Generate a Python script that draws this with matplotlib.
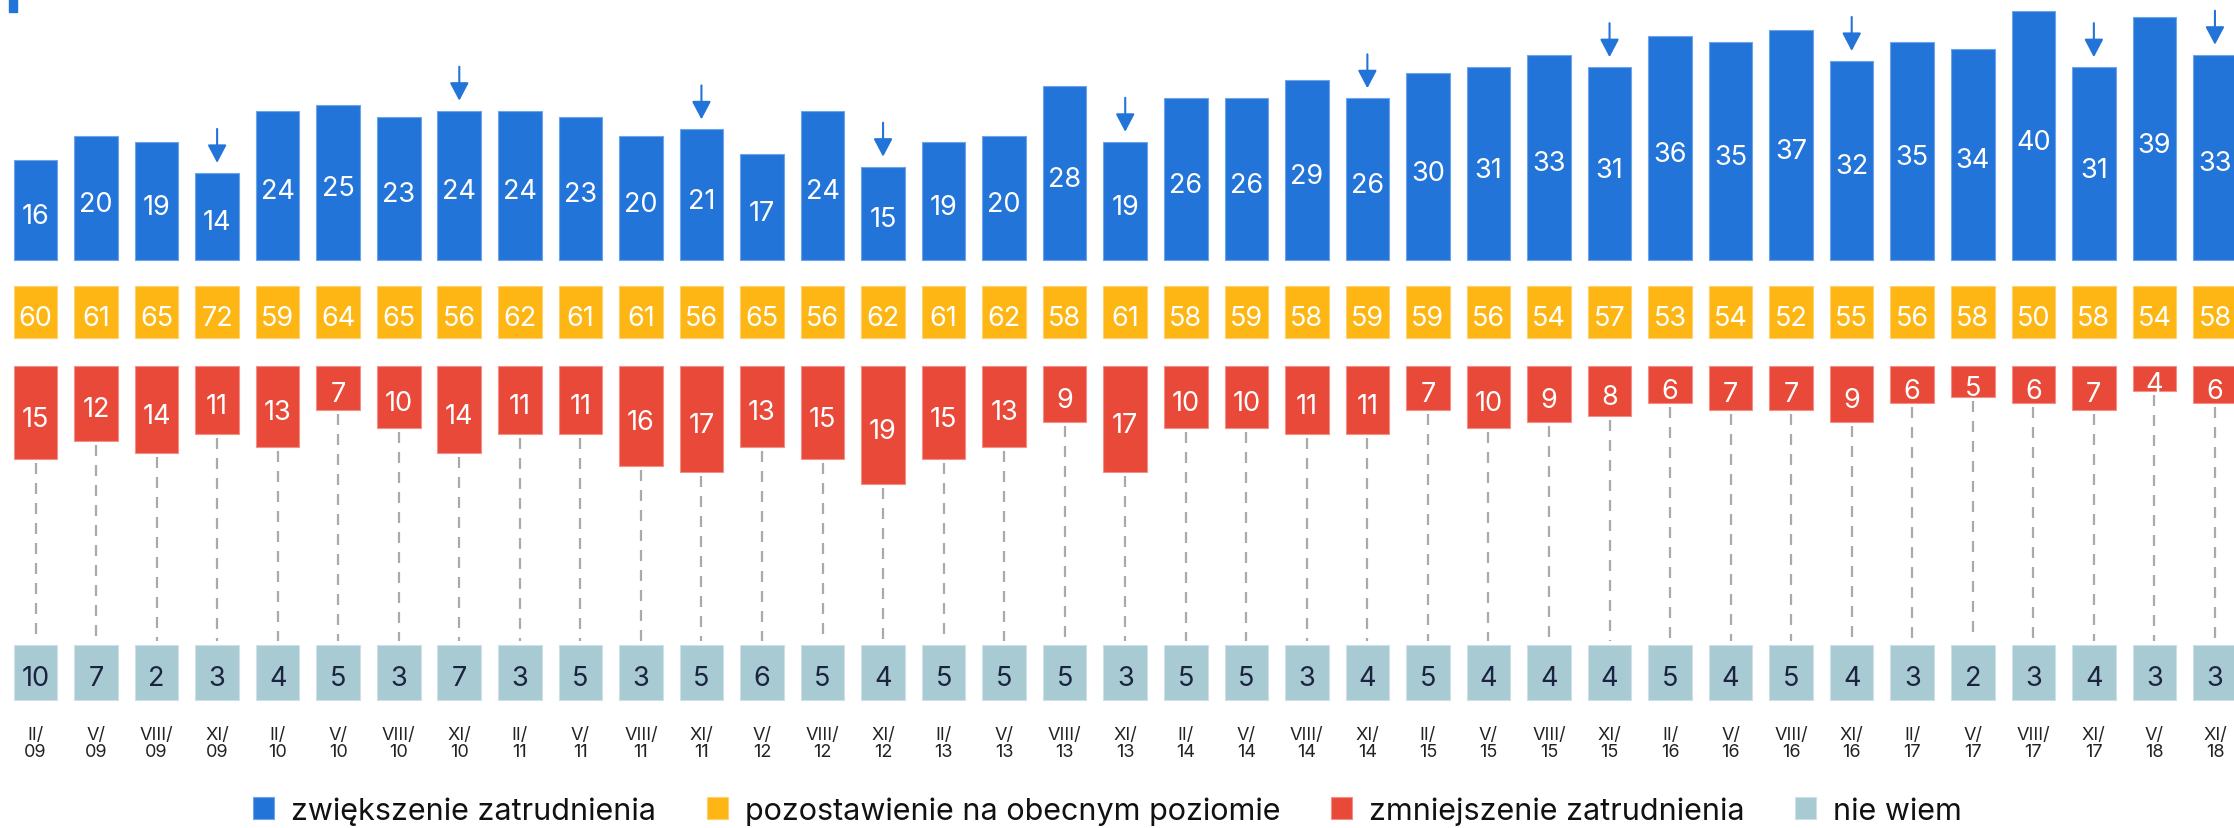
import numpy as np
import matplotlib.pyplot as plt
from matplotlib.patches import Rectangle

plt.rcParams['font.family'] = ['Inter', 'DejaVu Sans']
plt.rcParams['lines.scale_dashes'] = False

# dane
okresy = ['II/\n09', 'V/\n09', 'VIII/\n09', 'XI/\n09', 'II/\n10', 'V/\n10', 'VIII/\n10', 'XI/\n10',
          'II/\n11', 'V/\n11', 'VIII/\n11', 'XI/\n11', 'V/\n12', 'VIII/\n12', 'XI/\n12',
          'II/\n13', 'V/\n13', 'VIII/\n13', 'XI/\n13', 'II/\n14', 'V/\n14', 'VIII/\n14', 'XI/\n14',
          'II/\n15', 'V/\n15', 'VIII/\n15', 'XI/\n15', 'II/\n16', 'V/\n16', 'VIII/\n16', 'XI/\n16',
          'II/\n17', 'V/\n17', 'VIII/\n17', 'XI/\n17', 'V/\n18', 'XI/\n18']
zwiekszenie = [16, 20, 19, 14, 24, 25, 23, 24, 24, 23, 20, 21, 17, 24, 15, 19, 20, 28, 19,
               26, 26, 29, 26, 30, 31, 33, 31, 36, 35, 37, 32, 35, 34, 40, 31, 39, 33]
pozostawienie = [60, 61, 65, 72, 59, 64, 65, 56, 62, 61, 61, 56, 65, 56, 62, 61, 62, 58, 61,
                 58, 59, 58, 59, 59, 56, 54, 57, 53, 54, 52, 55, 56, 58, 50, 58, 54, 58]
zmniejszenie = [15, 12, 14, 11, 13, 7, 10, 14, 11, 11, 16, 17, 13, 15, 19, 15, 13, 9, 17,
                10, 10, 11, 11, 7, 10, 9, 8, 6, 7, 7, 9, 6, 5, 6, 7, 4, 6]
nie_wiem = [10, 7, 2, 3, 4, 5, 3, 7, 3, 5, 3, 5, 6, 5, 4, 5, 5, 5, 3, 5, 5, 3, 4, 5, 4,
            4, 4, 5, 4, 5, 4, 3, 2, 3, 4, 3, 3]
etykiety = ['zwiększenie zatrudnienia', 'pozostawienie na obecnym poziomie',
            'zmniejszenie zatrudnienia', 'nie wiem']

NIEBIESKI = '#2374d8'
ZOLTY = '#feb614'
CZERWONY = '#e84938'
SZARY = '#a8cad2'

W, H = 2234, 829
fig = plt.figure(figsize=(W / 100, H / 100), dpi=100)
ax_bottom = 715
ax = fig.add_axes([0, (H - ax_bottom) / H, 1, ax_bottom / H])

x = np.arange(len(okresy))
k = 6.22          # px na punkt procentowy
szer = 0.72
baza_nieb = 261
gora_czerw = 367

zw = np.array(zwiekszenie)
zm = np.array(zmniejszenie)

b1 = ax.bar(x, -zw * k, bottom=baza_nieb, width=szer, color=NIEBIESKI,
            edgecolor='#6ea4ea', linewidth=0.8, zorder=3)
b2 = ax.bar(x, 52, bottom=287, width=szer, color=ZOLTY,
            edgecolor='#fed070', linewidth=0.8, zorder=3)
b3 = ax.bar(x, zm * k, bottom=gora_czerw, width=szer, color=CZERWONY,
            edgecolor='#f29088', linewidth=0.8, zorder=3)
b4 = ax.bar(x, 55, bottom=646, width=szer, color=SZARY,
            edgecolor='#cfe1e6', linewidth=0.8, zorder=3)

# linie przerywane
ax.vlines(x, gora_czerw + zm * k + 4, 642, colors='#aaaaaa', linewidth=1.6,
          linestyles=(0, (7.9, 6.5)), zorder=1)

fs = 19.5
for i in x:
    ax.text(i, baza_nieb - zw[i] * k / 2 + 3, str(zw[i]), ha='center', va='center_baseline',
            color='white', fontsize=fs, zorder=4)
    ax.text(i, 313 + 3, str(pozostawienie[i]), ha='center', va='center_baseline',
            color='white', fontsize=fs, zorder=4)
    ax.text(i, gora_czerw + zm[i] * k / 2 + 3, str(zm[i]), ha='center', va='center_baseline',
            color='white', fontsize=fs, zorder=4)
    ax.text(i, 673.5 + 3, str(nie_wiem[i]), ha='center', va='center_baseline',
            color='#1c2340', fontsize=fs, zorder=4)

# strzałki nad badaniami listopadowymi
for i, lab in enumerate(okresy):
    if lab.startswith('XI/'):
        tip = baza_nieb - zw[i] * k - 10
        ax.annotate('', xy=(i, tip), xytext=(i, tip - 34),
                    arrowprops=dict(arrowstyle='-|>,head_length=0.55,head_width=0.29',
                                    mutation_scale=20, color=NIEBIESKI, lw=1.5,
                                    shrinkA=0, shrinkB=0), zorder=4)

ax.set_xlim(-35.5 / 60.54, (W - 35.5) / 60.54)
ax.set_ylim(ax_bottom, 0)
ax.set_xticks(x)
ax.set_xticklabels(okresy, fontsize=13, color='#222222')
for t in ax.get_xticklabels():
    t.set_linespacing(1.0)
ax.tick_params(axis='x', length=0, pad=9)
ax.set_yticks([])
for s in ax.spines.values():
    s.set_visible(False)

# mały znacznik w lewym górnym rogu
fig.patches.append(Rectangle((9 / W, 1 - 13 / H), 8 / W, 13 / H, transform=fig.transFigure,
                             color=NIEBIESKI, figure=fig))

fig.legend([b1, b2, b3, b4], etykiety, loc='center', ncol=4,
           bbox_to_anchor=(1107.5 / W, 17.5 / H), frameon=False, fontsize=22,
           handlelength=0.7, handleheight=0.7, handletextpad=0.55,
           columnspacing=1.65, labelcolor='#111111', borderpad=0, borderaxespad=0)

fig.savefig('out.png', dpi=100)
